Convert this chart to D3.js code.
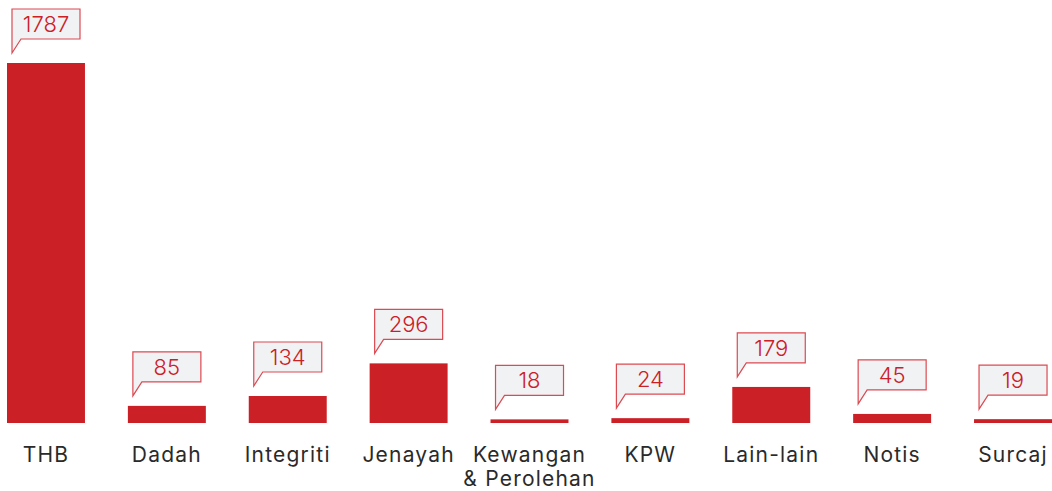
<!DOCTYPE html>
<html>
<head>
<meta charset="utf-8">
<script src="https://cdn.jsdelivr.net/npm/d3@7"></script>
<style>
  body { margin: 0; background: #fff; }
  svg { display: block; font-family: "Inter", "Open Sans", sans-serif; }
</style>
</head>
<body>
<svg class="chart"></svg>
<script>
var categories = ["THB", "Dadah", "Integriti", "Jenayah", "Kewangan\n& Perolehan", "KPW", "Lain-lain", "Notis", "Surcaj"];
var counts = [1787, 85, 134, 296, 18, 24, 179, 45, 19];

var width = 1052, height = 491;
var baseline = 423;
var red = "#cc2027";

var data = categories.map(function(c, i) { return {cat: c, val: counts[i]}; });

var svg = d3.select('.chart')
  .attr("width", width)
  .attr("height", height);

var x = d3.scaleBand().domain(categories).range([7, 1052])
  .paddingInner(0.355).paddingOuter(0);
var y = d3.scaleLinear().domain([0, 1787]).range([baseline, 63]);

// bars
svg.append("g").selectAll("rect")
  .data(data)
  .enter().append("rect")
  .attr("x", function(d) { return x(d.cat); })
  .attr("y", function(d) { return y(d.val); })
  .attr("width", x.bandwidth())
  .attr("height", function(d) { return baseline - y(d.val); })
  .attr("fill", red);

// callouts
var boxW = 68, boxH = 30;
var callout = svg.append("g").selectAll("g")
  .data(data)
  .enter().append("g")
  .attr("transform", function(d) {
    return "translate(" + (x(d.cat) + 5) + "," + (y(d.val) - 54) + ")";
  });

callout.append("path")
  .attr("d", "M0,0 L" + boxW + ",0 L" + boxW + "," + boxH + " L9," + boxH + " L0," + (boxH + 14) + " Z")
  .attr("fill", "#f1f2f4")
  .attr("stroke", "#dc4a52")
  .attr("stroke-width", 1.2)
  .attr("stroke-linejoin", "miter");

callout.append("text")
  .attr("x", boxW / 2)
  .attr("y", 23)
  .attr("text-anchor", "middle")
  .attr("font-size", 22)
  .attr("font-weight", 300)
  .attr("fill", red)
  .text(function(d) { return d.val; });

// category labels
var labels = svg.append("g").selectAll("text")
  .data(categories)
  .enter().append("text")
  .attr("x", function(d) { return x(d) + x.bandwidth() / 2; })
  .attr("y", 462)
  .attr("text-anchor", "middle")
  .attr("font-size", 21)
  .attr("font-weight", 400)
  .attr("letter-spacing", 1.2)
  .attr("fill", "#2a2a2a");

labels.each(function(d) {
  var lines = d.split("\n");
  var t = d3.select(this);
  lines.forEach(function(l, i) {
    t.append("tspan")
      .attr("x", x(d) + x.bandwidth() / 2)
      .attr("dy", i == 0 ? 0 : 24)
      .text(l);
  });
});
</script>
</body>
</html>
